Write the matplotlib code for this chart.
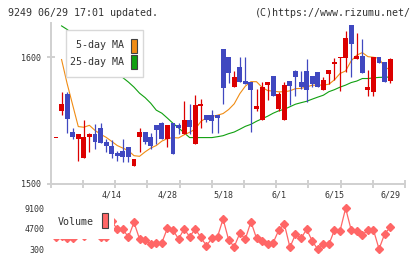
import matplotlib
matplotlib.use("Agg")
import matplotlib.pyplot as plt
import numpy as np
from matplotlib.patches import Rectangle

# ---------------- data ----------------
opens = [1536, 1557, 1571, 1540.5, 1535, 1520.5, 1537, 1539.5, 1544, 1532.5,
         1530, 1524, 1526, 1529, 1514, 1537, 1541, 1537, 1546, 1548,
         1535, 1547.5, 1546, 1539.5, 1550, 1531.5, 1561, 1554.5, 1554.5, 1554,
         1606, 1600, 1576, 1592, 1581, 1580, 1559, 1550, 1578, 1585,
         1559, 1550.5, 1581, 1589, 1580, 1589, 1585, 1588, 1574, 1586.5,
         1594.5, 1599.5, 1599.5, 1625.4, 1598.7, 1601, 1574, 1572.5, 1600, 1596,
         1581]
highs = [1536, 1572, 1572, 1544, 1539.5, 1550, 1540, 1547, 1548, 1535.5,
         1534, 1526, 1535.5, 1529, 1519, 1543.5, 1541, 1540, 1546, 1549,
         1546, 1548, 1548, 1565, 1563, 1570, 1566.5, 1554.5, 1558, 1554.5,
         1606, 1600, 1589, 1600, 1600, 1580, 1575, 1580.5, 1580.5, 1585,
         1572, 1580, 1581, 1590, 1589, 1598.5, 1585, 1588, 1584.5, 1590,
         1599.5, 1600.3, 1620.5, 1625.5, 1619, 1614.5, 1590, 1600, 1600, 1596,
         1599.5]
lows = [1536, 1554, 1540, 1535, 1518, 1520, 1525, 1527.5, 1532, 1525,
        1520.5, 1518, 1517, 1517, 1513.5, 1525, 1531, 1527.5, 1531, 1535,
        1529, 1523.5, 1539.5, 1539.5, 1539.5, 1531.5, 1543.5, 1549, 1540, 1540,
        1563, 1579.5, 1576, 1580, 1579, 1541, 1557.5, 1550, 1566, 1569,
        1557, 1550, 1562, 1569, 1574.5, 1564.5, 1576, 1576.5, 1574, 1579,
        1582, 1573, 1588.5, 1584.5, 1598.5, 1587.5, 1569, 1569, 1595.5, 1580,
        1579.5]
closes = [1536, 1563, 1551, 1537, 1539.5, 1537, 1539.5, 1533, 1532, 1529.5,
          1523.5, 1521.5, 1521, 1521, 1519, 1541, 1533, 1529.5, 1542, 1535,
          1546, 1523.5, 1544, 1550, 1545, 1562, 1562.7, 1550, 1549.5, 1552,
          1575.5, 1587, 1584, 1580.5, 1579, 1574, 1561, 1576.5, 1580, 1569,
          1570.5, 1578, 1577, 1584.5, 1576.5, 1574, 1579, 1576.5, 1581.7, 1590,
          1596.3, 1600.3, 1615, 1610, 1600.8, 1587.5, 1576, 1600, 1595.5, 1580.5,
          1598.5]
ma5 = [np.nan, 1598, 1579, 1562, 1545, 1544.5, 1546, 1542, 1539, 1536.5,
       1533.3, 1530, 1528, 1526, 1522, 1521.5, 1525, 1528, 1530, 1533.5,
       1535.5, 1536.3, 1536, 1538.5, 1540.5, 1543, 1549, 1552, 1553, 1554,
       1555.3, 1558.5, 1563, 1571, 1577, 1580.5, 1580.5, 1576, 1573.5, 1573,
       1572.5, 1572.5, 1573.3, 1575, 1575.2, 1576.3, 1577.7, 1577.8, 1577.8, 1578.5,
       1582, 1587, 1589, 1597, 1601.5, 1603.5, 1600.3, 1599.8, 1599, 1592,
       1590]
ma25 = [np.nan, 1624.6, 1621.8, 1618.3, 1614.3, 1610.3, 1606.7, 1602.8, 1599.2, 1595.2,
        1591.3, 1587.3, 1583.7, 1580.2, 1576.2, 1571.4, 1567.9, 1563.5, 1558, 1555.6,
        1551.7, 1547.6, 1544, 1540.1, 1536.3, 1536.3, 1536.3, 1536.3, 1536.3, 1537,
        1537.8, 1539.4, 1540.7, 1542.9, 1545.2, 1546.8, 1549.2, 1551.2, 1553.2, 1555.6,
        1557.5, 1558.7, 1560.7, 1562.7, 1563.9, 1565, 1566.7, 1568.3, 1569.8, 1572.6,
        1574.2, 1576.2, 1577.8, 1579.8, 1581, 1583, 1583, 1583.5, 1583.9, 1584,
        1584.2]
volume = [3000, 3260, 2830, 2830, 5000, 3050, 4500, 5500, 2940, 2940,
          6300, 4660, 4660, 2880, 6090, 2510, 2300, 1440, 1590, 1720,
          4810, 4440, 2510, 4660, 3000, 4660, 2880, 1070, 2660, 3000,
          6800, 2300, 860, 3730, 2510, 6220, 2660, 2080, 1370, 1720,
          4440, 5730, 730, 3520, 2660, 4590, 2080, 300, 1370, 1370,
          4440, 4290, 9100, 4440, 4290, 3370, 4440, 4440, 360, 3580,
          5020]
date_labels = ["4/14", "4/28", "5/18", "6/1", "6/15", "6/29"]
date_index = [10, 20, 30, 40, 50, 60]
price_ticks = [1500, 1600]
volume_ticks = [300, 4700, 9100]

# ---------------- style ----------------
RED = "#dc0000"
BLUE = "#4048c0"
ORANGE = "#f08c14"
GREEN = "#10a010"
VOLC = "#ff6666"
AXC = "#d0d0d0"
TXT = "#333333"
MONO = "DejaVu Sans Mono"

W, H = 420, 259
fig = plt.figure(figsize=(W / 100, H / 100), dpi=100)
fig.patch.set_facecolor("white")


def fx(px):
    return px / W


def fy(py):
    return 1 - py / H


x = np.arange(len(closes))
xl = (-0.95, 62.66)

# ---------------- price panel ----------------
ax = fig.add_axes([fx(50.7), fy(183.5), fx(405) - fx(50.7), (183.5 - 23) / H])
ax.plot(x, ma25, color=GREEN, lw=0.8, zorder=2)
ax.plot(x, ma5, color=ORANGE, lw=0.8, zorder=2)
o = np.array(opens)
c = np.array(closes)
cols = [RED if cc >= oo else BLUE for oo, cc in zip(o, c)]
ax.vlines(x, lows, highs, colors=cols, lw=0.9, zorder=3)
ax.bar(x, np.maximum(np.abs(c - o), 0.8), bottom=np.minimum(o, c), width=0.88,
       color=cols, linewidth=0, zorder=4)
ax.set_xlim(*xl)
ax.set_ylim(1500, 1626.9)
for s in ["top", "right"]:
    ax.spines[s].set_visible(False)
for s in ["left", "bottom"]:
    ax.spines[s].set_color(AXC)
    ax.spines[s].set_linewidth(1.4)
ax.set_yticks(price_ticks)
ax.set_yticklabels([str(t) for t in price_ticks], family=MONO, fontsize=6, color=TXT)
ax.tick_params(axis="y", direction="inout", length=6, width=1.4, color=AXC, pad=4)
ax.set_xticks(np.linspace(xl[0], xl[1], 12))
ax.set_xticklabels([])
ax.tick_params(axis="x", direction="inout", length=6, width=1.4, color=AXC)

# legend for price panel
fig.add_artist(Rectangle((fx(65.7), fy(77.3)), fx(143.3) - fx(65.7), (77.3 - 30) / H,
                         transform=fig.transFigure, facecolor="white",
                         edgecolor="#d8d8d8", lw=1.0, zorder=5))
for lab, col, yc in [("5-day MA", ORANGE, 45.5), ("25-day MA", GREEN, 62)]:
    fig.text(fx(124.5), fy(yc), lab, ha="right", va="center", family=MONO,
             fontsize=7.2, color=TXT, zorder=6)
    fig.add_artist(Rectangle((fx(131.3), fy(yc + 7)), fx(137.3) - fx(131.3), 14 / H,
                             transform=fig.transFigure, facecolor=col,
                             edgecolor="#404040", lw=0.8, zorder=6))

# ---------------- volume panel ----------------
av = fig.add_axes([fx(50.7), fy(249.3), fx(405) - fx(50.7), (249.3 - 208.3) / H])
av.plot(x, volume, color=VOLC, lw=0.9, marker="D", ms=4.3, mec=VOLC, mfc=VOLC,
        clip_on=False, zorder=2)
av.set_xlim(*xl)
av.set_ylim(300, 9100)
for s in av.spines.values():
    s.set_visible(False)
av.set_yticks(volume_ticks)
av.set_yticklabels([str(t) for t in volume_ticks], family=MONO, fontsize=6, color=TXT)
av.tick_params(axis="y", length=0, pad=4.5)
av.xaxis.tick_top()
av.set_xticks(date_index)
av.set_xticklabels(date_labels, family=MONO, fontsize=6, color=TXT)
av.tick_params(axis="x", length=0, pad=6)

# volume legend
fig.add_artist(Rectangle((fx(52), fy(238.5)), fx(114) - fx(52), (238.5 - 205) / H,
                         transform=fig.transFigure, facecolor="white",
                         edgecolor="none", zorder=5))
fig.text(fx(58), fy(222), "Volume", ha="left", va="center", family=MONO,
         fontsize=7.2, color=TXT, zorder=6)
fig.add_artist(Rectangle((fx(101.7), fy(228.3)), fx(108.3) - fx(101.7), (228.3 - 212.7) / H,
                         transform=fig.transFigure, facecolor=VOLC,
                         edgecolor="#404040", lw=0.8, zorder=6))

# ---------------- header ----------------
fig.text(fx(8), fy(12.7), "9249 06/29 17:01 updated.", ha="left", va="center",
         family=MONO, fontsize=7.2, color=TXT)
fig.text(fx(411), fy(12.7), "(C)https://www.rizumu.net/", ha="right", va="center",
         family=MONO, fontsize=7.2, color=TXT)

fig.savefig("out.png", dpi=100, facecolor="white")
